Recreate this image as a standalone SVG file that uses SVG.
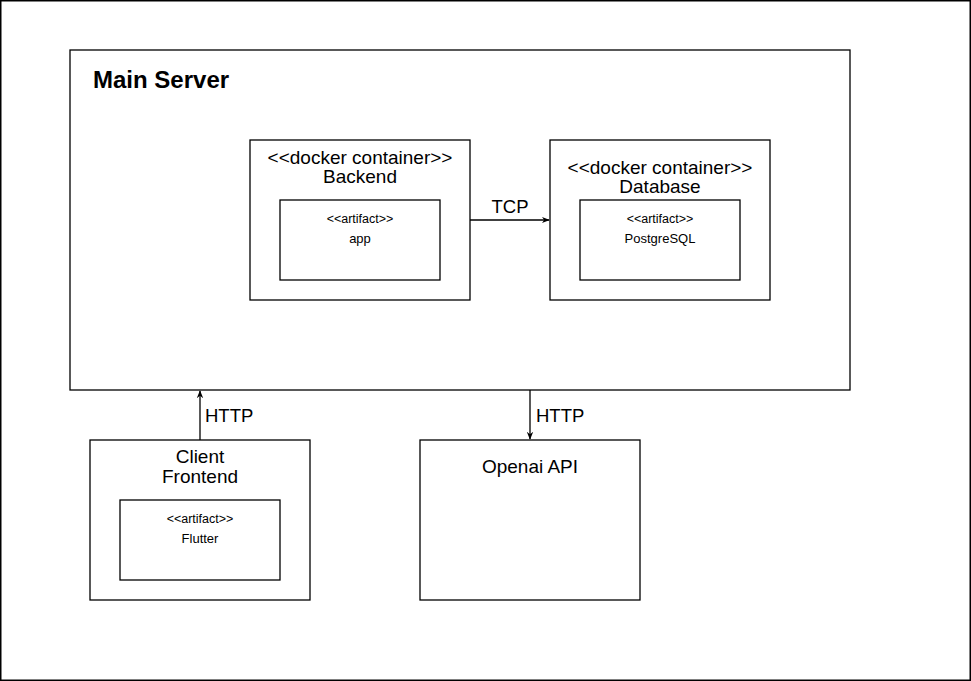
<svg xmlns="http://www.w3.org/2000/svg" width="971" height="681" viewBox="0 0 971 681">
<style>
.box{fill:#fff;stroke:#000;stroke-width:1.3}
.t{font-family:"Liberation Sans",Arial,sans-serif;fill:#000;text-anchor:middle}
.big{font-size:19px}
.sm{font-size:12.5px}
.md{font-size:13px}
.lbl{font-family:"Liberation Sans",Arial,sans-serif;font-size:18.5px;fill:#000}
.edge{stroke:#000;stroke-width:1.3;fill:none}
</style>
<defs>
<marker id="ah" viewBox="0 0 10 10" refX="9" refY="5" markerWidth="8" markerHeight="8" orient="auto" markerUnits="userSpaceOnUse">
<path d="M0,1 L10,5 L0,9 L3,5 Z" fill="#000"/>
</marker>
</defs>
<rect x="0" y="0" width="971" height="681" fill="#fff"/>
<rect x="0.75" y="0.75" width="969.5" height="679.5" fill="none" stroke="#000" stroke-width="1.5"/>
<g id="main-server">
<rect class="box" x="70" y="50" width="780" height="340"/>
<text x="93" y="88" font-family="Liberation Sans,Arial,sans-serif" font-size="24" font-weight="bold">Main Server</text>
</g>
<g id="backend">
<rect class="box" x="250" y="140" width="220" height="160"/>
<text class="t big" x="360" y="164">&lt;&lt;docker container&gt;&gt;</text>
<text class="t big" x="360" y="183">Backend</text>
</g>
<g id="app">
<rect class="box" x="280" y="200" width="160" height="80"/>
<text class="t sm" x="360" y="223">&lt;&lt;artifact&gt;&gt;</text>
<text class="t md" x="360" y="243">app</text>
</g>
<g id="database">
<rect class="box" x="550" y="140" width="220" height="160"/>
<text class="t big" x="660" y="174">&lt;&lt;docker container&gt;&gt;</text>
<text class="t big" x="660" y="193">Database</text>
</g>
<g id="postgresql">
<rect class="box" x="580" y="200" width="160" height="80"/>
<text class="t sm" x="660" y="223">&lt;&lt;artifact&gt;&gt;</text>
<text class="t md" x="660" y="243">PostgreSQL</text>
</g>
<g id="client">
<rect class="box" x="90" y="440" width="220" height="160"/>
<text class="t big" x="200" y="463">Client</text>
<text class="t big" x="200" y="483">Frontend</text>
</g>
<g id="flutter">
<rect class="box" x="120" y="500" width="160" height="80"/>
<text class="t sm" x="200" y="523">&lt;&lt;artifact&gt;&gt;</text>
<text class="t md" x="200" y="543">Flutter</text>
</g>
<g id="openai">
<rect class="box" x="420" y="440" width="220" height="160"/>
<text class="t big" x="530" y="473">Openai API</text>
</g>
<g id="connectors">
<line class="edge" x1="470" y1="220" x2="549" y2="220" marker-end="url(#ah)"/>
<text class="lbl" x="510" y="213" text-anchor="middle">TCP</text>
<line class="edge" x1="200" y1="440" x2="200" y2="391" marker-end="url(#ah)"/>
<text class="lbl" x="205" y="422">HTTP</text>
<line class="edge" x1="530" y1="390" x2="530" y2="439" marker-end="url(#ah)"/>
<text class="lbl" x="536" y="422">HTTP</text>
</g>
</svg>
